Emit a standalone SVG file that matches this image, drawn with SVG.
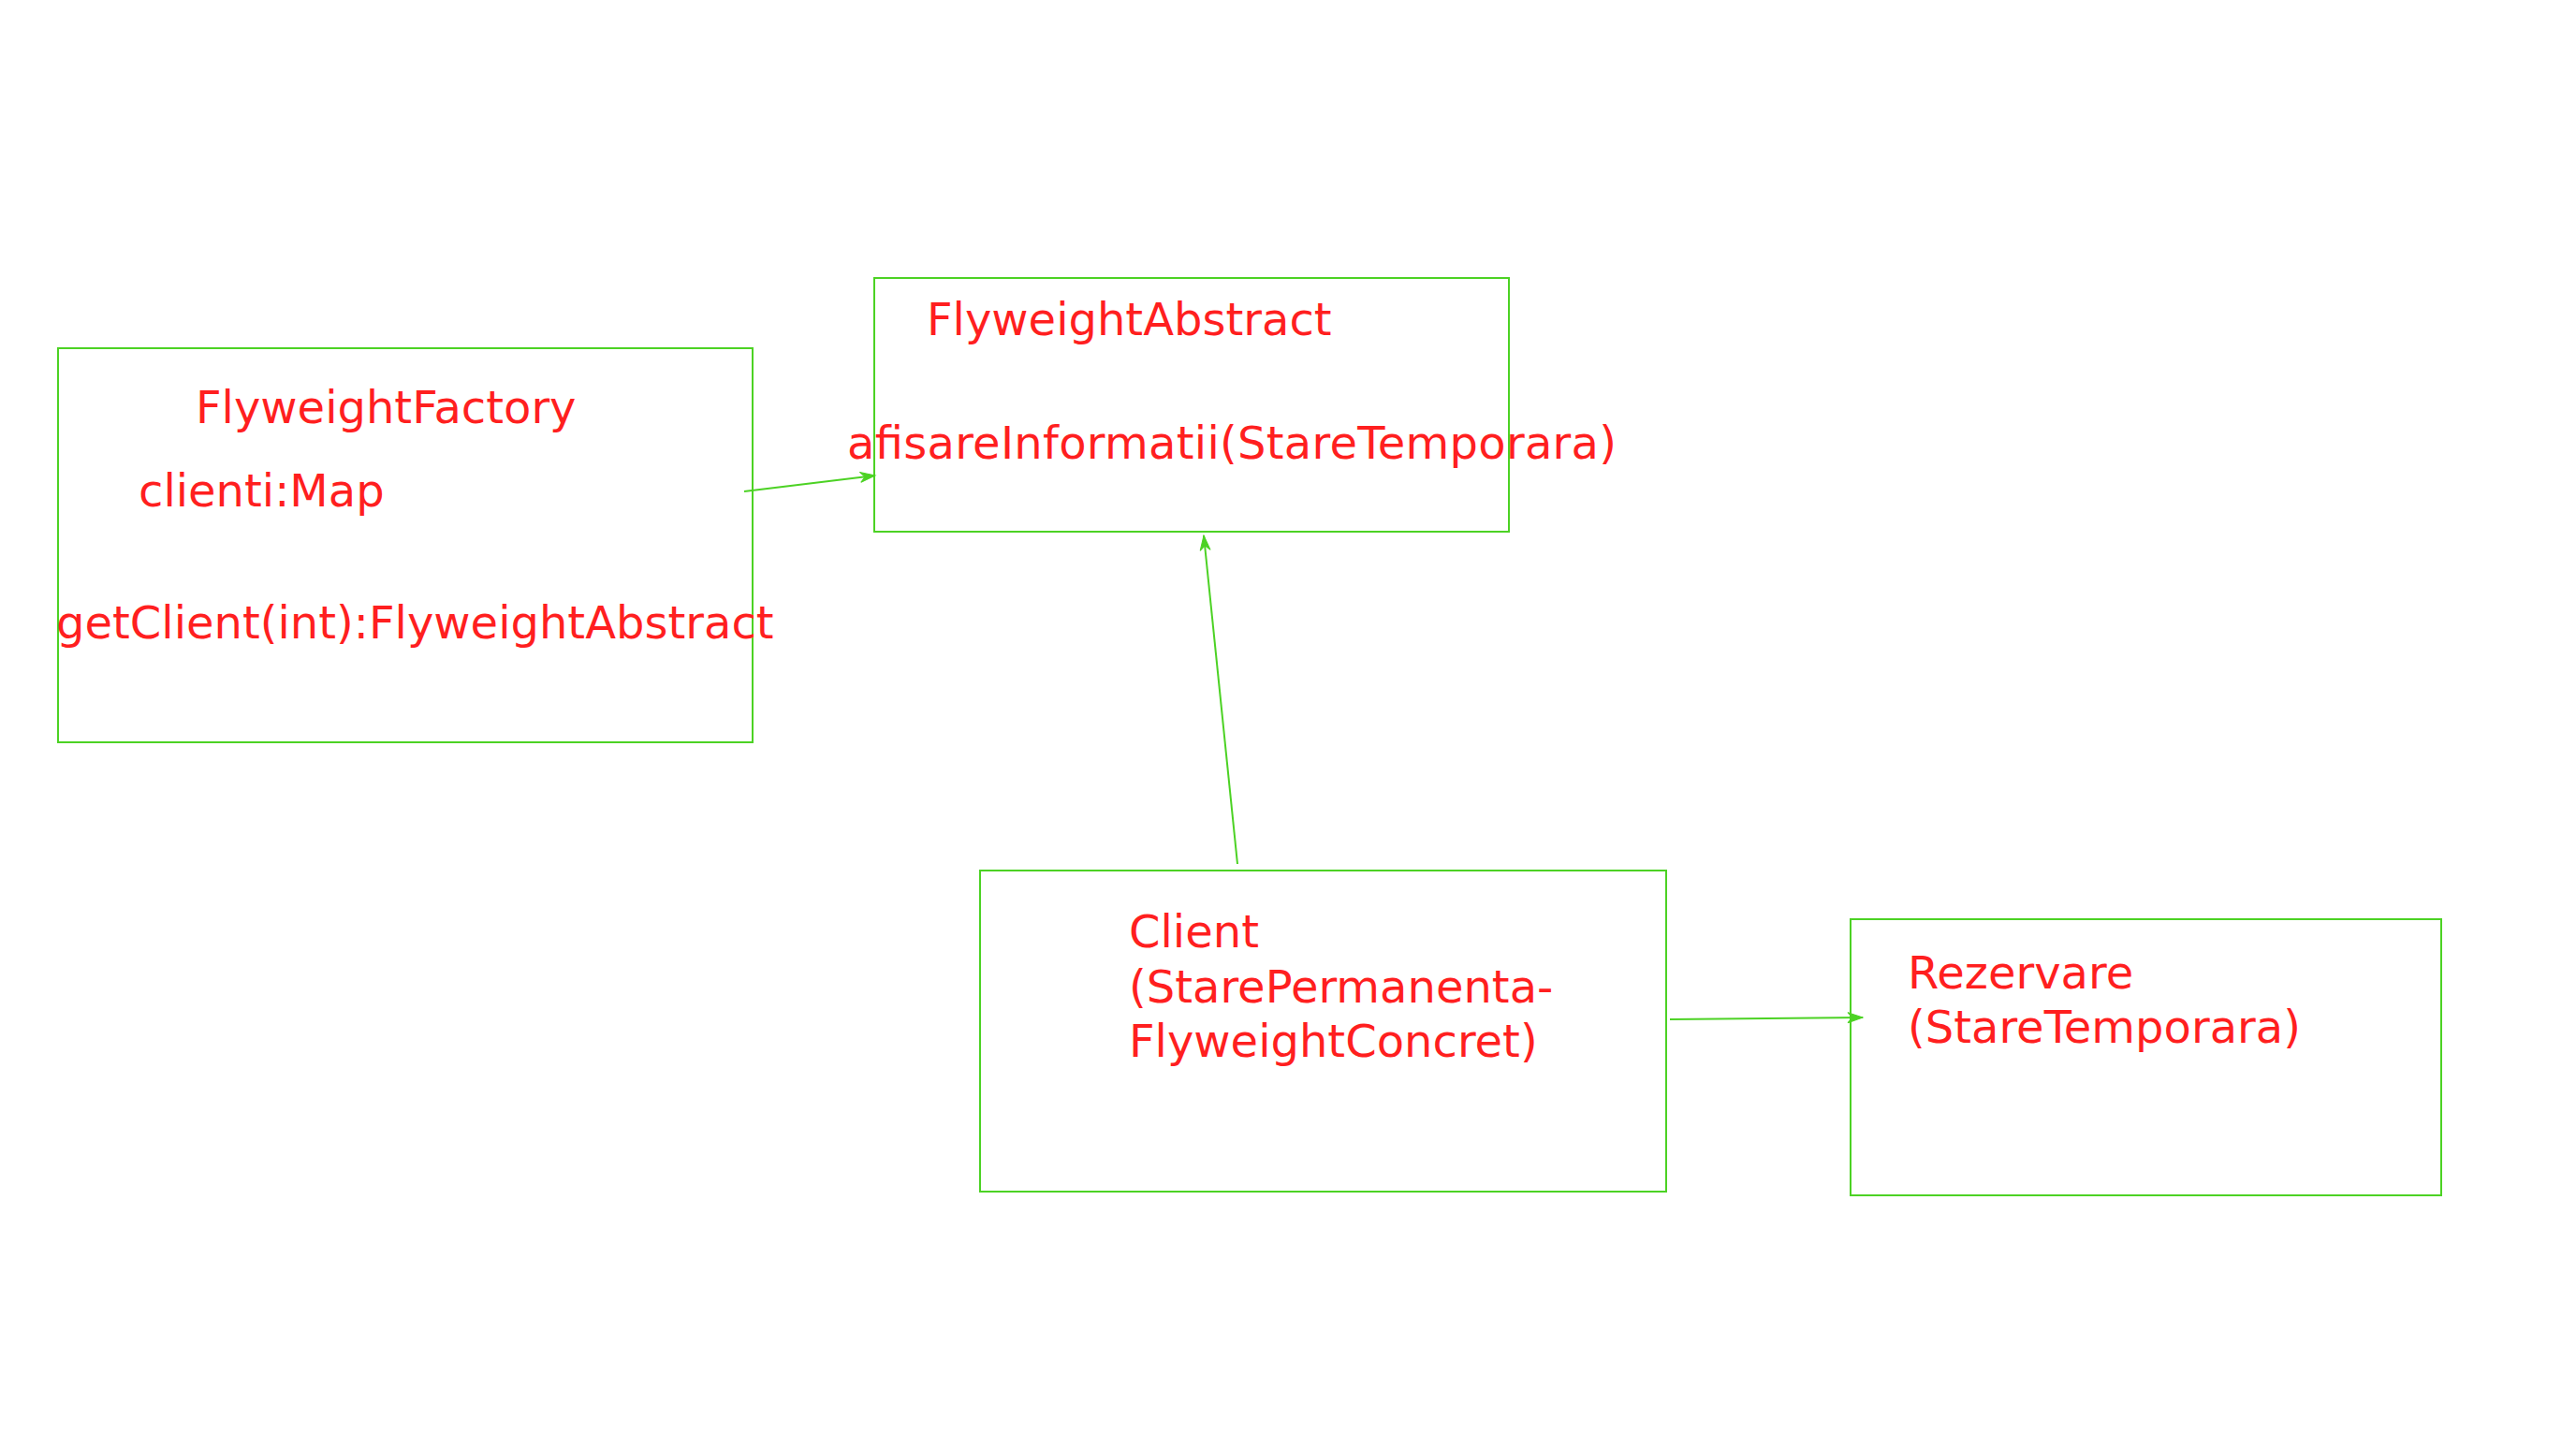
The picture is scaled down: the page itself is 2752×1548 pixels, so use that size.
<svg xmlns="http://www.w3.org/2000/svg" width="2752" height="1548" viewBox="0 0 2752 1548">
<style>
.box{fill:none;stroke:#4CD224;stroke-width:2}
.lbl{font-family:"DejaVu Sans",Verdana,sans-serif;font-size:48px;fill:#FF1F1F}
.con{fill:none;stroke:#4CD224;stroke-width:2}
</style>
<defs>
<marker id="ah" markerUnits="userSpaceOnUse" markerWidth="20" markerHeight="14" viewBox="-17 -7 18 14" refX="0" refY="0" orient="auto">
<path d="M0,0 L-16,-5.5 L-11,0 L-16,5.5 Z" fill="#4CD224" stroke="#4CD224" stroke-width="1"/>
</marker>
</defs>
<rect width="2752" height="1548" fill="#ffffff"/>
<g id="node-factory">
<rect class="box" x="62" y="372" width="742" height="421"/>
<text class="lbl" x="209" y="452">FlyweightFactory</text>
<text class="lbl" x="148" y="541">clienti:Map</text>
<text class="lbl" x="60" y="682">getClient(int):FlyweightAbstract</text>
</g>
<g id="node-abstract">
<rect class="box" x="934" y="297" width="678" height="271"/>
<text class="lbl" x="990" y="358">FlyweightAbstract</text>
<text class="lbl" x="905" y="490" textLength="822" lengthAdjust="spacing">afisareInformatii(StareTemporara)</text>
</g>
<g id="node-client">
<rect class="box" x="1047" y="930" width="733" height="343"/>
<text class="lbl" x="1206" y="1012">Client</text>
<text class="lbl" x="1206" y="1071">(StarePermanenta-</text>
<text class="lbl" x="1206" y="1129">FlyweightConcret)</text>
</g>
<g id="node-rezervare">
<rect class="box" x="1977" y="982" width="631" height="295"/>
<text class="lbl" x="2038" y="1056">Rezervare</text>
<text class="lbl" x="2038" y="1114">(StareTemporara)</text>
</g>
<g id="connectors">
<line class="con" x1="795" y1="525" x2="935" y2="508" marker-end="url(#ah)"/>
<line class="con" x1="1322" y1="923" x2="1286" y2="572" marker-end="url(#ah)"/>
<line class="con" x1="1784" y1="1089" x2="1990" y2="1087" marker-end="url(#ah)"/>
</g>
</svg>
